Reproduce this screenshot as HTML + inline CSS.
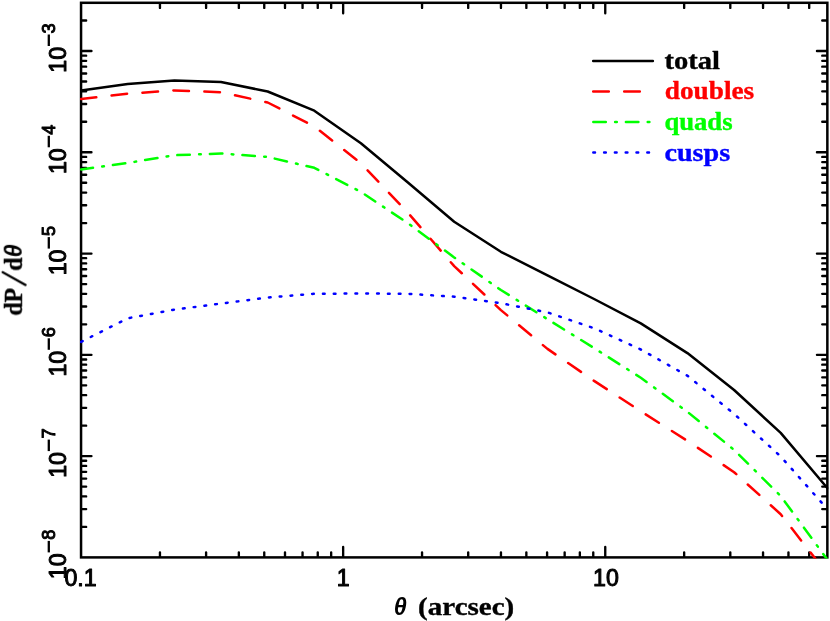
<!DOCTYPE html>
<html><head><meta charset="utf-8"><title>chart</title>
<style>
html,body{margin:0;padding:0;background:#fff;}
svg{display:block;}
.s{font-family:"Liberation Serif",serif;font-weight:bold;}
.n{font-family:"Liberation Sans",sans-serif;stroke:#000;stroke-width:1.0;stroke-linejoin:round;}
</style></head><body>
<svg width="830" height="621" viewBox="0 0 830 621">
<rect width="830" height="621" fill="#fff"/>
<defs><clipPath id="c"><rect x="79.95" y="1.6999999999999997" width="748.5000000000001" height="556.8000000000001"/></clipPath></defs>
<g fill="none" stroke="#000" stroke-width="2.5">
<rect x="81.05" y="2.8" width="746.3000000000001" height="554.6"/>
<path d="M159.95 556.80L159.95 552.30 M159.95 3.40L159.95 7.90 M206.10 556.80L206.10 552.30 M206.10 3.40L206.10 7.90 M238.85 556.80L238.85 552.30 M238.85 3.40L238.85 7.90 M264.25 556.80L264.25 552.30 M264.25 3.40L264.25 7.90 M285.00 556.80L285.00 552.30 M285.00 3.40L285.00 7.90 M302.55 556.80L302.55 552.30 M302.55 3.40L302.55 7.90 M317.75 556.80L317.75 552.30 M317.75 3.40L317.75 7.90 M331.16 556.80L331.16 552.30 M331.16 3.40L331.16 7.90 M343.15 556.80L343.15 547.00 M343.15 3.40L343.15 13.20 M422.05 556.80L422.05 552.30 M422.05 3.40L422.05 7.90 M468.20 556.80L468.20 552.30 M468.20 3.40L468.20 7.90 M500.95 556.80L500.95 552.30 M500.95 3.40L500.95 7.90 M526.35 556.80L526.35 552.30 M526.35 3.40L526.35 7.90 M547.10 556.80L547.10 552.30 M547.10 3.40L547.10 7.90 M564.65 556.80L564.65 552.30 M564.65 3.40L564.65 7.90 M579.85 556.80L579.85 552.30 M579.85 3.40L579.85 7.90 M593.26 556.80L593.26 552.30 M593.26 3.40L593.26 7.90 M605.25 556.80L605.25 547.00 M605.25 3.40L605.25 13.20 M684.15 556.80L684.15 552.30 M684.15 3.40L684.15 7.90 M730.30 556.80L730.30 552.30 M730.30 3.40L730.30 7.90 M763.05 556.80L763.05 552.30 M763.05 3.40L763.05 7.90 M788.45 556.80L788.45 552.30 M788.45 3.40L788.45 7.90 M809.20 556.80L809.20 552.30 M809.20 3.40L809.20 7.90 M81.65 526.91L86.15 526.91 M826.75 526.91L822.25 526.91 M81.65 509.08L86.15 509.08 M826.75 509.08L822.25 509.08 M81.65 496.42L86.15 496.42 M826.75 496.42L822.25 496.42 M81.65 486.61L86.15 486.61 M826.75 486.61L822.25 486.61 M81.65 478.59L86.15 478.59 M826.75 478.59L822.25 478.59 M81.65 471.81L86.15 471.81 M826.75 471.81L822.25 471.81 M81.65 465.94L86.15 465.94 M826.75 465.94L822.25 465.94 M81.65 460.75L86.15 460.75 M826.75 460.75L822.25 460.75 M81.65 456.12L91.45 456.12 M826.75 456.12L816.95 456.12 M81.65 425.63L86.15 425.63 M826.75 425.63L822.25 425.63 M81.65 407.80L86.15 407.80 M826.75 407.80L822.25 407.80 M81.65 395.14L86.15 395.14 M826.75 395.14L822.25 395.14 M81.65 385.33L86.15 385.33 M826.75 385.33L822.25 385.33 M81.65 377.31L86.15 377.31 M826.75 377.31L822.25 377.31 M81.65 370.53L86.15 370.53 M826.75 370.53L822.25 370.53 M81.65 364.66L86.15 364.66 M826.75 364.66L822.25 364.66 M81.65 359.47L86.15 359.47 M826.75 359.47L822.25 359.47 M81.65 354.84L91.45 354.84 M826.75 354.84L816.95 354.84 M81.65 324.35L86.15 324.35 M826.75 324.35L822.25 324.35 M81.65 306.52L86.15 306.52 M826.75 306.52L822.25 306.52 M81.65 293.86L86.15 293.86 M826.75 293.86L822.25 293.86 M81.65 284.05L86.15 284.05 M826.75 284.05L822.25 284.05 M81.65 276.03L86.15 276.03 M826.75 276.03L822.25 276.03 M81.65 269.25L86.15 269.25 M826.75 269.25L822.25 269.25 M81.65 263.38L86.15 263.38 M826.75 263.38L822.25 263.38 M81.65 258.19L86.15 258.19 M826.75 258.19L822.25 258.19 M81.65 253.56L91.45 253.56 M826.75 253.56L816.95 253.56 M81.65 223.07L86.15 223.07 M826.75 223.07L822.25 223.07 M81.65 205.24L86.15 205.24 M826.75 205.24L822.25 205.24 M81.65 192.58L86.15 192.58 M826.75 192.58L822.25 192.58 M81.65 182.77L86.15 182.77 M826.75 182.77L822.25 182.77 M81.65 174.75L86.15 174.75 M826.75 174.75L822.25 174.75 M81.65 167.97L86.15 167.97 M826.75 167.97L822.25 167.97 M81.65 162.10L86.15 162.10 M826.75 162.10L822.25 162.10 M81.65 156.91L86.15 156.91 M826.75 156.91L822.25 156.91 M81.65 152.28L91.45 152.28 M826.75 152.28L816.95 152.28 M81.65 121.79L86.15 121.79 M826.75 121.79L822.25 121.79 M81.65 103.96L86.15 103.96 M826.75 103.96L822.25 103.96 M81.65 91.30L86.15 91.30 M826.75 91.30L822.25 91.30 M81.65 81.49L86.15 81.49 M826.75 81.49L822.25 81.49 M81.65 73.47L86.15 73.47 M826.75 73.47L822.25 73.47 M81.65 66.69L86.15 66.69 M826.75 66.69L822.25 66.69 M81.65 60.82L86.15 60.82 M826.75 60.82L822.25 60.82 M81.65 55.63L86.15 55.63 M826.75 55.63L822.25 55.63 M81.65 51.00L91.45 51.00 M826.75 51.00L816.95 51.00 M81.65 20.51L86.15 20.51 M826.75 20.51L822.25 20.51" stroke-width="2.35" stroke-linecap="round"/>
</g>
<g clip-path="url(#c)" fill="none" stroke-width="2.5" stroke-linecap="round" stroke-linejoin="round">
<polyline stroke="#000" points="81.1,90.5 127.7,84.1 174.4,80.4 221.0,82.0 267.7,91.5 314.3,110.7 360.9,143.2 407.6,182.3 454.2,221.8 500.9,251.8 547.5,275.3 594.1,299.0 640.8,323.4 687.4,353.1 734.1,390.0 780.7,432.9 827.3,488.0"/>
<polyline stroke="#f00" stroke-dashoffset="0.3" stroke-dasharray="15.6 15.4" points="81.1,99.1 127.7,93.7 174.4,90.4 221.0,92.2 267.7,102.5 314.3,126.4 360.9,163.3 407.6,212.4 454.2,266.1 500.9,310.1 547.5,348.9 594.1,380.9 640.8,411.3 687.4,440.8 734.1,472.2 780.7,514.2 827.3,574.0"/>
<polyline stroke="#0f0" stroke-dashoffset="0.5" stroke-dasharray="12.5 9.3 1.7 9.1" points="81.1,169.4 127.7,163.0 174.4,155.2 221.0,153.5 267.7,157.0 314.3,167.8 360.9,191.9 407.6,223.0 454.2,257.4 500.9,290.0 547.5,319.2 594.1,348.1 640.8,377.7 687.4,411.8 734.1,449.9 780.7,496.0 827.3,559.5"/>
<polyline stroke="#00f" stroke-dasharray="1.7 9.135" points="81.1,341.9 127.7,318.3 174.4,309.6 221.0,303.6 267.7,297.6 314.3,293.8 360.9,293.5 407.6,293.8 454.2,296.7 500.9,303.2 547.5,312.4 594.1,328.2 640.8,349.5 687.4,375.7 734.1,413.9 780.7,456.5 827.3,509.0"/>
</g>
<g fill="none" stroke-width="2.5" stroke-linecap="round">
<path stroke="#000" d="M593.2 61H652.9"/>
<path stroke="#f00" stroke-dasharray="15.6 15.4" d="M593.2 91.6H652.9"/>
<path stroke="#0f0" stroke-dasharray="12.5 9.3 1.7 9.1" d="M593.3 122H652.9"/>
<path stroke="#00f" stroke-dasharray="1.7 9.1" d="M593.3 152.4H652.9"/>
</g>
<g class="s" opacity="0.999" font-size="24.2" stroke-width="0.35" stroke-linejoin="round">
<text x="664.4" y="68.7" textLength="55.5" lengthAdjust="spacingAndGlyphs" fill="#000" stroke="#000">total</text>
<text x="664.8" y="99.4" textLength="89.4" lengthAdjust="spacingAndGlyphs" fill="#f00" stroke="#f00">doubles</text>
<text x="664.4" y="130.1" textLength="68.2" lengthAdjust="spacingAndGlyphs" fill="#0f0" stroke="#0f0">quads</text>
<text x="664.4" y="160.5" textLength="65.8" lengthAdjust="spacingAndGlyphs" fill="#00f" stroke="#00f">cusps</text>
<text x="418.1" y="615.0" textLength="96.2" lengthAdjust="spacingAndGlyphs" stroke="#000">(arcsec)</text>
<g transform="translate(21.9 315.4) rotate(-90)" stroke="#000"><text x="6.45" text-anchor="middle">d</text><text x="20.25" text-anchor="middle">P</text><path d="M30.4 3.6L43.2 -19.2" stroke-width="2.3" stroke-linecap="round" fill="none"/><text x="51.15" text-anchor="middle">d</text></g>
</g>
<g class="n" opacity="0.999" font-size="23.2">
<text x="400.2" y="614.9" text-anchor="middle" font-style="italic" font-weight="bold" font-size="23.3" stroke="none">θ</text>
<text transform="translate(21.7 250.85) rotate(-90)" text-anchor="middle" font-style="italic" font-weight="bold" font-size="23.3" stroke="none">θ</text>
<text x="80.5" y="585.8" text-anchor="middle">0.1</text>
<text x="343.2" y="585.8" text-anchor="middle">1</text>
<text x="606" y="585.8" text-anchor="middle">10</text>
<g transform="translate(66.3 71.7) rotate(-90)"><text x="11.85" text-anchor="middle">10</text><path d="M25.7 -17.5H37.2" stroke-width="2.3" fill="none"/><text x="38.3" y="-11.3" font-size="18.2" stroke-width="1.0">3</text></g>
<g transform="translate(66.3 173.0) rotate(-90)"><text x="11.85" text-anchor="middle">10</text><path d="M25.7 -17.5H37.2" stroke-width="2.3" fill="none"/><text x="38.3" y="-11.3" font-size="18.2" stroke-width="1.0">4</text></g>
<g transform="translate(66.3 274.3) rotate(-90)"><text x="11.85" text-anchor="middle">10</text><path d="M25.7 -17.5H37.2" stroke-width="2.3" fill="none"/><text x="38.3" y="-11.3" font-size="18.2" stroke-width="1.0">5</text></g>
<g transform="translate(66.3 375.5) rotate(-90)"><text x="11.85" text-anchor="middle">10</text><path d="M25.7 -17.5H37.2" stroke-width="2.3" fill="none"/><text x="38.3" y="-11.3" font-size="18.2" stroke-width="1.0">6</text></g>
<g transform="translate(66.3 476.8) rotate(-90)"><text x="11.85" text-anchor="middle">10</text><path d="M25.7 -17.5H37.2" stroke-width="2.3" fill="none"/><text x="38.3" y="-11.3" font-size="18.2" stroke-width="1.0">7</text></g>
<g transform="translate(66.3 578.1) rotate(-90)"><text x="11.85" text-anchor="middle">10</text><path d="M25.7 -17.5H37.2" stroke-width="2.3" fill="none"/><text x="38.3" y="-11.3" font-size="18.2" stroke-width="1.0">8</text></g>
</g>
</svg>
</body></html>
